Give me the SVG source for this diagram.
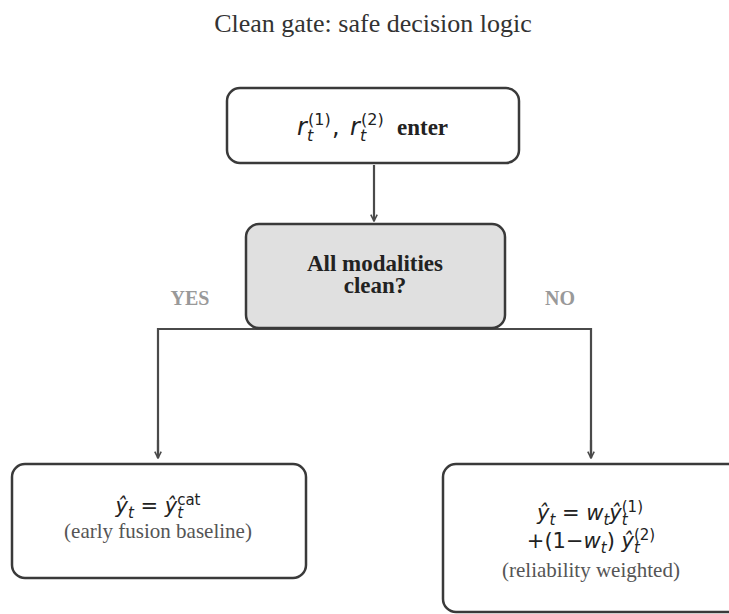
<svg xmlns="http://www.w3.org/2000/svg" width="729" height="614" viewBox="0 0 729 614">
<style>
  .box { fill: #ffffff; stroke: #3a3a3a; stroke-width: 2.5; }
  .dec { fill: #e0e0e0; stroke: #3a3a3a; stroke-width: 2.5; }
  .ln { fill: none; stroke: #4a4a4a; stroke-width: 2.2; }
  .title { font-family: "Liberation Serif", "Times New Roman", serif; font-size: 26px; fill: #333; }
  .bold { font-family: "Liberation Serif", "Times New Roman", serif; font-size: 23px; font-weight: bold; fill: #222; }
  .lab { font-family: "Liberation Serif", "Times New Roman", serif; font-size: 20px; font-weight: bold; fill: #999; }
  .note { font-family: "Liberation Serif", "Times New Roman", serif; font-size: 21px; fill: #555; }
  .m { font-family: "DejaVu Sans", sans-serif; font-style: oblique; font-size: 21px; fill: #222; }
  .mt { font-family: "DejaVu Sans", sans-serif; font-style: oblique; font-size: 24px; fill: #222; }
  .s { font-size: 15px; }
  .s2 { font-size: 16px; }
  .up { font-style: normal; }
</style>
<defs>
  <marker id="ah" viewBox="0 0 10 10" refX="9" refY="5" markerWidth="8" markerHeight="8" markerUnits="userSpaceOnUse" orient="auto">
    <path d="M1,1 L9,5 L1,9" fill="none" stroke="#4a4a4a" stroke-width="2"/>
  </marker>
</defs>

<text class="title" x="373" y="32" text-anchor="middle">Clean gate: safe decision logic</text>

<g id="connectors">
  <line class="ln" x1="374" y1="165" x2="374" y2="221" marker-end="url(#ah)"/>
  <polyline class="ln" points="158,458 158,329 591,329 591,458"/>
  <line class="ln" x1="158" y1="440" x2="158" y2="458" marker-end="url(#ah)"/>
  <line class="ln" x1="591" y1="440" x2="591" y2="458" marker-end="url(#ah)"/>
  <text class="lab" x="190" y="305" text-anchor="middle">YES</text>
  <text class="lab" x="560" y="305" text-anchor="middle">NO</text>
</g>

<g id="enter">
  <rect class="box" x="227" y="88" width="292" height="75" rx="13"/>
  <text class="mt" x="297" y="135">r<tspan class="s2" x="307" y="141">t</tspan><tspan class="s2 up" x="308" y="125">(1)</tspan><tspan x="332" y="135" class="up">,</tspan><tspan x="350" y="135">r</tspan><tspan class="s2" x="360" y="141">t</tspan><tspan class="s2 up" x="361" y="125">(2)</tspan></text>
  <text class="bold" x="397" y="135">enter</text>
</g>

<g id="decision">
  <rect class="dec" x="246" y="224" width="259" height="104" rx="13"/>
  <text class="bold" x="375" y="271" text-anchor="middle">All modalities</text>
  <text class="bold" x="375" y="293" text-anchor="middle">clean?</text>
</g>

<g id="early">
  <rect class="box" x="12" y="464" width="294" height="114" rx="13"/>
  <text class="m" x="158" y="513" text-anchor="middle">ŷ<tspan class="s" dy="5">t</tspan><tspan dy="-5"> = ŷ</tspan><tspan class="s" dy="5">t</tspan><tspan class="s up" dx="-5.9" dy="-13">cat</tspan></text>
  <text class="note" x="158" y="538" text-anchor="middle">(early fusion baseline)</text>
</g>

<g id="weighted">
  <rect class="box" x="443" y="464" width="300" height="148" rx="13"/>
  <text class="m" x="590" y="520" text-anchor="middle">ŷ<tspan class="s" dy="5">t</tspan><tspan dy="-5"> = w</tspan><tspan class="s" dy="5">t</tspan><tspan dy="-5">ŷ</tspan><tspan class="s" dy="5">t</tspan><tspan class="s up" dx="-5.9" dy="-13">(1)</tspan></text>
  <text class="m" x="591" y="548" text-anchor="middle"><tspan class="up">+(1−</tspan>w<tspan class="s" dy="5">t</tspan><tspan class="up" dy="-5">) </tspan>ŷ<tspan class="s" dy="5">t</tspan><tspan class="s up" dx="-5.9" dy="-13">(2)</tspan></text>
  <text class="note" x="591" y="577" text-anchor="middle">(reliability weighted)</text>
</g>
</svg>
